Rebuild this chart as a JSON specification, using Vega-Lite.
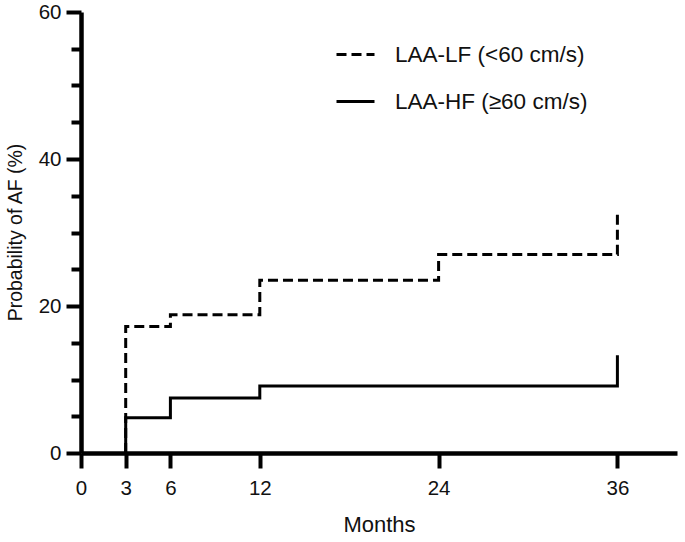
{
  "$schema": "https://vega.github.io/schema/vega-lite/v6.json",
  "autosize": "none",
  "padding": {"left": 81, "top": 12, "right": 8, "bottom": 89},
  "width": 596,
  "height": 441,
  "background": "white",
  "config": {
    "view": {"stroke": null},
    "font": "Liberation Sans",
    "axis": {"grid": false, "domainColor": "black", "tickColor": "black", "labelColor": "#111", "titleColor": "#111", "labelFontSize": 20.5, "titleFontSize": 22, "titleFontWeight": "normal", "labelFont": "Liberation Sans", "titleFont": "Liberation Sans"}
  },
  "data": {"values": [
    {"group": "LAA-LF (<60 cm/s)", "month": 3, "prob": 0},
    {"group": "LAA-LF (<60 cm/s)", "month": 3, "prob": 17.2},
    {"group": "LAA-LF (<60 cm/s)", "month": 6, "prob": 18.8},
    {"group": "LAA-LF (<60 cm/s)", "month": 12, "prob": 23.5},
    {"group": "LAA-LF (<60 cm/s)", "month": 24, "prob": 27.0},
    {"group": "LAA-LF (<60 cm/s)", "month": 36, "prob": 33.1},
    {"group": "LAA-HF (≥60 cm/s)", "month": 3, "prob": 0},
    {"group": "LAA-HF (≥60 cm/s)", "month": 3, "prob": 4.8},
    {"group": "LAA-HF (≥60 cm/s)", "month": 6, "prob": 7.5},
    {"group": "LAA-HF (≥60 cm/s)", "month": 12, "prob": 9.1},
    {"group": "LAA-HF (≥60 cm/s)", "month": 36, "prob": 13.3}
  ]},
  "mark": {"type": "line", "interpolate": "step-after", "color": "black", "strokeWidth": 3},
  "encoding": {
    "x": {
      "field": "month", "type": "quantitative",
      "scale": {"domain": [0, 40], "nice": false, "zero": false},
      "axis": {
        "title": "Months", "values": [0, 3, 6, 12, 24, 36],
        "domainWidth": 4.5, "tickWidth": 4, "tickSize": 15,
        "labelPadding": 10, "labelFlush": false, "labelOverlap": false,
        "titleX": 298, "titleY": 71, "titleBaseline": "middle", "titleAlign": "center"
      }
    },
    "y": {
      "field": "prob", "type": "quantitative",
      "scale": {"domain": [0, 60], "nice": false},
      "axis": {
        "title": "Probability of AF (%)",
        "values": [0, 5, 10, 15, 20, 25, 30, 35, 40, 45, 50, 55, 60],
        "labelExpr": "datum.value % 20 === 0 ? datum.label : ''",
        "tickSize": {"expr": "datum.value % 20 === 0 ? 15 : 10"},
        "domainWidth": 4.5, "tickWidth": 4, "labelPadding": 5,
        "labelFlush": false, "labelOverlap": false, "titleFontSize": 19.5,
        "titleX": -66, "titleY": 220, "titleAngle": -90, "titleBaseline": "middle", "titleAlign": "center"
      }
    },
    "strokeDash": {
      "field": "group", "type": "nominal",
      "scale": {"domain": ["LAA-LF (<60 cm/s)", "LAA-HF (≥60 cm/s)"], "range": [[10, 5], [1, 0]]},
      "legend": {
        "title": null, "orient": "none", "legendX": 254, "legendY": 22,
        "padding": 0, "symbolType": "stroke", "symbolSize": 1444, "symbolStrokeWidth": 3,
        "symbolStrokeColor": "black", "labelFontSize": 22.5, "labelColor": "#111", "labelFont": "Liberation Sans",
        "labelOffset": 19, "rowPadding": 15, "labelLimit": 400
      }
    }
  }
}
